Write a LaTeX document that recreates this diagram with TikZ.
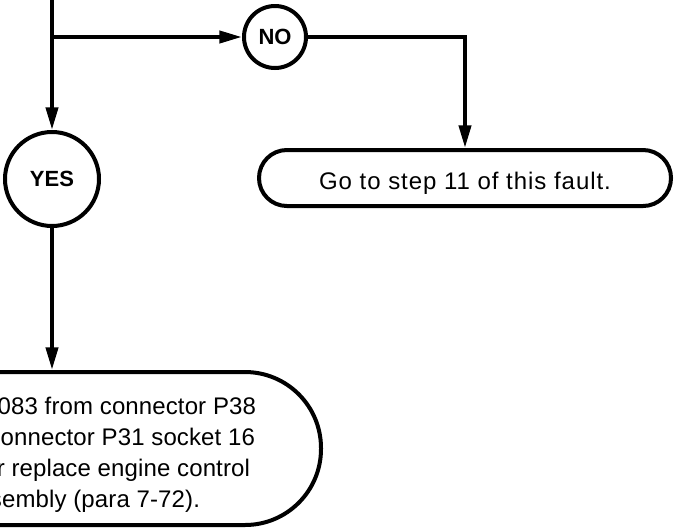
\documentclass[tikz,border=0pt]{standalone}
\usepackage{fontspec}
\setmainfont{Liberation Sans}
\newfontfamily\gofont[LetterSpace=4]{Liberation Sans}
\newfontfamily\fixfont[LetterSpace=0.5]{Liberation Sans}
\usetikzlibrary{arrows.meta}
\begin{document}
\begin{tikzpicture}[x=0.75pt,y=-0.75pt,line width=3pt,
  conn/.style={draw,-{Triangle[length=17pt,width=9pt]}},
  roundnode/.style={circle,draw,line width=3pt,inner sep=0pt,
    font=\fontsize{16.5}{20}\selectfont\bfseries},
  pillbox/.style={draw,line width=3pt,inner sep=0pt},
  gotext/.style={font=\gofont\fontsize{18}{22}\selectfont},
  bodytext/.style={font=\fixfont\fontsize{18}{22}\selectfont,inner sep=0pt}]
\useasboundingbox (0,0) rectangle (674,529);
\clip (0,0) rectangle (674,529);
% decision circles
\node[roundnode,minimum size=46.5pt] (no) at (275,37) {NO};
\node[roundnode,minimum size=70.5pt] (yes) at (52,179) {YES};
% action boxes
\node[pillbox,gotext,rounded corners=20.9pt,minimum width=309pt,minimum height=42pt,
  text height=16.5pt,text depth=0pt] (go) at (465,178) {Go to step 11 of this fault.};
\node[pillbox,rounded corners=57pt,minimum width=465.75pt,minimum height=114.75pt] (fix) at (10.5,448.5) {};
\node[bodytext,anchor=base east] (l1) at (258,414) {083 from connector P38};
\node[bodytext,anchor=base east] (l2) at (257,445) {connector P31 socket 16};
\node[bodytext,anchor=base east] (l3) at (252,476) {or replace engine control};
\node[bodytext,anchor=base east] (l4) at (202,507) {assembly (para 7-72).};
% connectors
\coordinate (top) at (52,-10);
\coordinate (split) at (52,37);
\draw (top) -- (split);
\draw[conn] (split) -- (yes);
\draw[conn] (split) -- (no);
\draw[conn] (no) -| (go);
\draw[conn] (yes) -- (yes |- fix.north);
\end{tikzpicture}
\end{document}
